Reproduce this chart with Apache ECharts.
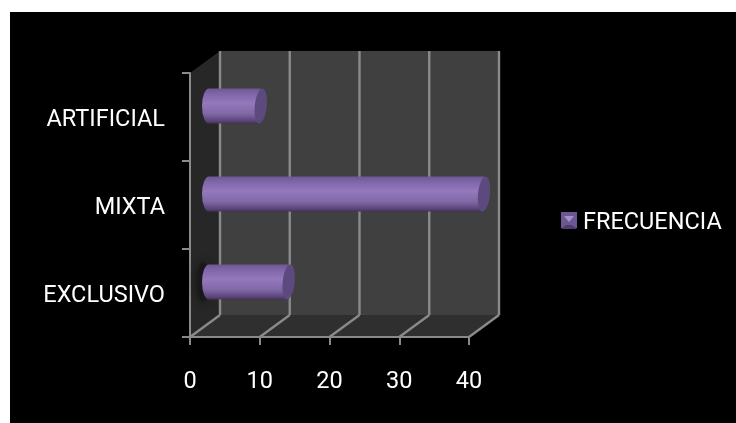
<!DOCTYPE html>
<html>
<head>
<meta charset="utf-8">
<style>html,body{margin:0;padding:0;background:#fff}#c{width:736px;height:423px}</style>
<script src="https://cdn.jsdelivr.net/npm/echarts@6/dist/echarts.min.js"></script>
</head>
<body>
<div id="c"></div>
<script>
const categories = ['EXCLUSIVO', 'MIXTA', 'ARTIFICIAL'];
const frecuencia = [12, 40, 8];
const xTicks = [0, 10, 20, 30, 40];
const seriesName = 'FRECUENCIA';

const DX = 30, DY = -22;
const FONT = 'Roboto, "Liberation Sans", Arial, sans-serif';
const GRID = '#8a8a8a';

const chart = echarts.init(document.getElementById('c'), null, {renderer: 'canvas'});

function renderFrame(params, api) {
  if (params.dataIndex !== 0) return null;
  const band = api.size([0, 1])[1];
  const n = categories.length;
  const yBottom = api.coord([0, 0])[1] + band / 2;
  const yTop = yBottom - band * n;
  const xl = api.coord([0, 0])[0], xr = api.coord([40, 0])[0];
  const poly = (pts, fill) => ({type: 'polygon', shape: {points: pts}, style: {fill: fill}, silent: true});
  const seg = (a, b) => ({type: 'line', shape: {x1: a[0], y1: a[1], x2: b[0], y2: b[1]},
    style: {stroke: GRID, lineWidth: 2.4}, silent: true});
  const children = [
    poly([[xl + DX, yTop + DY], [xr + DX, yTop + DY], [xr + DX, yBottom + DY], [xl + DX, yBottom + DY]], '#404040'),
    poly([[xl, yTop], [xl + DX, yTop + DY], [xl + DX, yBottom + DY], [xl, yBottom]], '#272727'),
    poly([[xl, yBottom], [xr, yBottom], [xr + DX, yBottom + DY], [xl + DX, yBottom + DY]], '#2f2f2f')
  ];
  xTicks.forEach(t => {
    const x = api.coord([t, 0])[0];
    children.push(seg([x, yBottom], [x + DX, yBottom + DY]));
    children.push(seg([x + DX, yBottom + DY], [x + DX, yTop + DY]));
  });
  return {type: 'group', children: children};
}

function renderCylinder(params, api) {
  const v = api.value(0), c = api.value(1);
  const a = api.coord([0, c]), b = api.coord([v, c]);
  const h = api.size([0, 1])[1] * 0.4;
  const cy = a[1] + DY / 2, x0 = a[0] + DX / 2 + 4, x1 = b[0] + DX / 2;
  const rx = 7, ry = h / 2;
  const top = cy - ry, bot = cy + ry;
  const body = {
    type: 'path',
    shape: {
      pathData: `M ${x0} ${top} L ${x1} ${top} L ${x1} ${bot} L ${x0} ${bot} A ${rx} ${ry} 0 0 1 ${x0} ${top} Z`,
      x: x0 - rx, y: top, width: x1 - x0 + rx, height: h, layout: 'cover'
    },
    style: {
      fill: new echarts.graphic.LinearGradient(0, 0, 0, 1, [
        {offset: 0, color: '#6e5794'},
        {offset: 0.15, color: '#7e66a8'},
        {offset: 0.42, color: '#9479bd'},
        {offset: 0.72, color: '#7f68a6'},
        {offset: 0.92, color: '#5b4579'},
        {offset: 1, color: '#44325f'}
      ])
    }
  };
  const cap = {
    type: 'ellipse',
    shape: {cx: x1, cy: cy, rx: 6, ry: ry},
    originX: x1, originY: cy, rotation: -0.1,
    style: {fill: '#5c4a7f'}
  };
  const children = [body, cap];
  if (params.dataIndex === 0) {
    children.unshift({
      type: 'ellipse',
      shape: {cx: x0 - 6, cy: cy, rx: 6, ry: ry + 2},
      style: {fill: '#191919', shadowBlur: 10, shadowColor: '#141414'}
    });
  }
  return {type: 'group', children: children};
}

chart.setOption({
  animation: false,
  backgroundColor: '#fff',
  textStyle: {fontFamily: FONT},
  grid: {left: 190, top: 73, width: 279, height: 264, containLabel: false},
  xAxis: {
    type: 'value', min: 0, max: 40, interval: 10, z: 3,
    splitLine: {show: false},
    axisLine: {show: true, onZero: false, lineStyle: {color: GRID, width: 2}},
    axisTick: {show: true, length: 8, lineStyle: {color: GRID, width: 2}},
    axisLabel: {color: '#fff', fontSize: 23.5, margin: 33, fontFamily: FONT, showMinLabel: true, showMaxLabel: true}
  },
  yAxis: {
    type: 'category', data: categories, z: 3,
    axisLine: {show: true, lineStyle: {color: GRID, width: 2}},
    axisTick: {show: true, length: 8, alignWithLabel: false, lineStyle: {color: GRID, width: 2}},
    axisLabel: {
      color: '#fff', fontSize: 23.5, margin: 25, fontFamily: FONT,
      formatter: '{a|{value}}',
      rich: {a: {color: '#fff', fontSize: 23.5, fontFamily: FONT, padding: [6, 0, 0, 0]}}
    }
  },
  legend: {
    left: 561, top: 211, padding: 0, itemWidth: 16, itemHeight: 16, itemGap: 0, icon: 'rect',
    selectedMode: false,
    data: [{name: seriesName, itemStyle: {color: '#6b5791'}}],
    textStyle: {
      color: '#fff', fontSize: 23.5, fontFamily: FONT,
      rich: {a: {color: '#fff', fontSize: 23.5, fontFamily: FONT, padding: [6, 0, 0, 1]}}
    },
    formatter: '{a|{name}}'
  },
  graphic: [
    {type: 'rect', z: -10, shape: {x: 10, y: 12, width: 726, height: 411}, style: {fill: '#000'}, silent: true},
    {type: 'polygon', z: 100, shape: {points: [[564, 216], [574, 216], [569, 222]]}, style: {fill: '#a48fcb'}, silent: true},
    {type: 'polygon', z: 100, shape: {points: [[561, 229], [577, 229], [572, 225], [566, 225]]}, style: {fill: '#4d3c6c'}, silent: true}
  ],
  series: [
    {
      type: 'custom', name: 'frame', coordinateSystem: 'cartesian2d', z: 1, clip: false, silent: true,
      data: [[0, 0]], encode: {x: 0, y: 1}, renderItem: renderFrame
    },
    {
      type: 'custom', name: seriesName, coordinateSystem: 'cartesian2d', z: 4, clip: false, silent: true,
      itemStyle: {color: '#6b5791'},
      data: frecuencia.map((v, i) => [v, i]), encode: {x: 0, y: 1}, renderItem: renderCylinder
    }
  ]
});
</script>
</body>
</html>
